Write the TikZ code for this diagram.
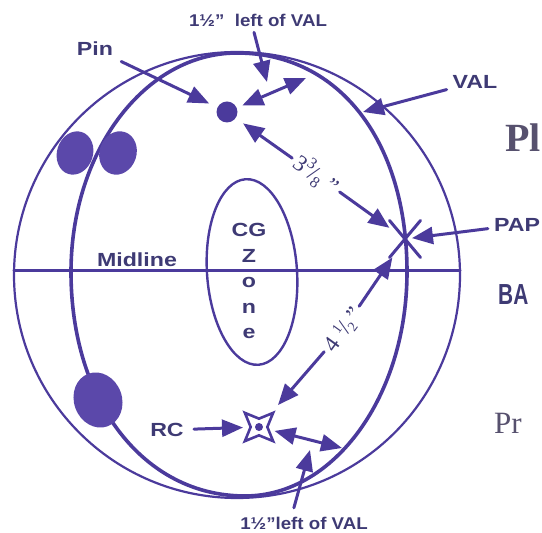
\documentclass[tikz,border=0pt]{standalone}
\usepackage{fontspec}
\setmainfont{Liberation Sans}
\newfontfamily\lblfont{Liberation Sans}[FakeStretch=1.22]
\newfontfamily\notefont{Liberation Sans}[FakeStretch=1.1]
\newfontfamily\numfont{Liberation Serif}
\newfontfamily\condfont{Liberation Sans}[FakeStretch=0.72]
\usetikzlibrary{arrows.meta,shapes.geometric,shapes.misc}
\definecolor{ink}{HTML}{4B3A9C}
\definecolor{holefill}{HTML}{5B48AA}
\definecolor{lbl}{HTML}{3E3A74}
\definecolor{ghost}{HTML}{57516E}
\tikzset{
  lab/.style={font=\lblfont\bfseries\fontsize{19}{22}\selectfont,text=lbl,inner sep=2pt},
  note/.style={font=\notefont\bfseries\fontsize{17}{20}\selectfont,text=lbl,inner sep=2pt},
  dimlab/.style={font=\numfont\fontsize{23}{24}\selectfont,text=lbl,inner sep=1pt},
  hole/.style={ellipse,fill=holefill,inner sep=0pt},
  arr/.style={draw=ink,line width=3pt,-{Triangle[length=21pt,width=17pt]}},
  dbl/.style={draw=ink,line width=3pt,{Triangle[length=21pt,width=17pt]}-{Triangle[length=21pt,width=17pt]}}
}
\begin{document}
\begin{tikzpicture}[x=1pt,y=1pt,line cap=round]
  \useasboundingbox (0,0) rectangle (542,533);
  \clip (0,0) rectangle (542,533);
  % ball, axis line and midline
  \coordinate (ctr) at (237,258);
  \draw[ink,line width=2.2pt] (ctr) circle[radius=223];
  \draw[ink,line width=3.6pt] (237,480) .. controls (339,480) and (407,392) .. (407,261)
    .. controls (407,137) and (334,37) .. (245,37)
    .. controls (144,37) and (71,131) .. (71,261)
    .. controls (71,382) and (145,480) .. (237,480);
  \coordinate (mlW) at (14,262);
  \coordinate (mlE) at (460,262);
  \draw[ink,line width=3pt] (mlW) -- (mlE);
  \node[lab] (midlbl) at (137,273) {Midline};
  % CG zone
  \node[ellipse,draw=ink,line width=2.4pt,minimum width=90pt,minimum height=186pt,rotate=4] (cgzone) at (252,261) {};
  \node[lab,align=center,font=\lblfont\bfseries\fontsize{19}{25.5}\selectfont] (cgtxt) at (249,252) {CG\\Z\\o\\n\\e};
  % holes
  \node[hole,minimum width=36pt,minimum height=44pt,rotate=-18] (fing1) at (75,380) {};
  \node[hole,minimum width=37pt,minimum height=44pt,rotate=-18] (fing2) at (118,380) {};
  \node[hole,minimum width=48pt,minimum height=56pt,rotate=20] (thumb) at (98,133) {};
  % pin, PAP and RC
  \node[circle,fill=ink,minimum size=21pt,inner sep=0pt] (pin) at (227,421) {};
  \node[cross out,draw=ink,line width=3pt,minimum width=28pt,minimum height=34pt,inner sep=0pt] (pap) at (405,294) {};
  \node[star,star points=4,star point ratio=2.4,shape border rotate=45,draw=ink,fill=white,line width=2.6pt,minimum size=40pt,inner sep=0pt] (rc) at (259,106) {};
  \fill[ink] (rc.center) circle[radius=4];
  % labels
  \node[lab] (pinlbl) at (95,484) {Pin};
  \node[note] (toplbl) at (258,513) {1½”~ left of VAL};
  \node[lab] (vallbl) at (475,451) {VAL};
  \node[lab] (paplbl) at (517,308) {PAP};
  \node[lab] (rclbl) at (167,103) {RC};
  \node[note] (botlbl) at (304,10) {1½”left of VAL};
  \coordinate (topgap) at (267,451);
  \coordinate (valtop) at (306,455);
  \coordinate (valpt) at (363,421);
  \coordinate (valbot) at (342,85);
  \coordinate (botgap) at (310,83);
  % arrows
  \draw[arr,shorten <=8pt,shorten >=9pt] (pinlbl) -- (pin);
  \draw[arr,shorten <=4pt] ([xshift=-5pt]toplbl.south) -- (topgap);
  \draw[dbl,shorten <=6pt] (pin) -- (valtop);
  \draw[arr,shorten <=4pt] (vallbl) -- (valpt);
  \draw[arr,shorten <=4pt,shorten >=7pt] (paplbl) -- (pap.center);
  \draw[arr,shorten <=8pt,shorten >=16pt] (rclbl) -- (rc.center);
  \draw[dbl,shorten <=16pt] (rc.center) -- (valbot);
  \draw[arr,shorten <=7pt] ([xshift=-12pt]botlbl.north) -- (botgap);
  % distances
  \node[dimlab,rotate=-36] (d338) at (316,358) {3\raisebox{.4em}{\fontsize{16}{16}\selectfont 3}\kern-.05em/\raisebox{-.2em}{\fontsize{16}{16}\selectfont 8}\kern.3em”};
  \node[dimlab,rotate=54] (d412) at (343,203) {4\kern.3em\raisebox{.35em}{\fontsize{14}{14}\selectfont 1}\kern-.05em/\kern-.05em\raisebox{-.15em}{\fontsize{14}{14}\selectfont 2}\kern.1em”};
  \draw[arr,shorten <=3pt,shorten >=9pt] (d338) -- (pin);
  \draw[arr,shorten <=3pt] (d338) -- (pap);
  \draw[arr,shorten <=3pt] (d412) -- (pap);
  \draw[arr,shorten <=3pt,shorten >=9pt] (d412) -- (rc);
  % page text at the edge
  \node[anchor=base west,inner sep=0pt,font=\numfont\bfseries\fontsize{40}{40}\selectfont,text=ghost] (bgpl) at (505,381) {Pl};
  \node[anchor=base west,inner sep=0pt,font=\condfont\bfseries\fontsize{29}{29}\selectfont,text=lbl] (bgba) at (498,228) {BA};
  \node[anchor=base west,inner sep=0pt,font=\numfont\fontsize{31}{31}\selectfont,text=ghost] (bgpr) at (494,99) {Pr};
\end{tikzpicture}
\end{document}
